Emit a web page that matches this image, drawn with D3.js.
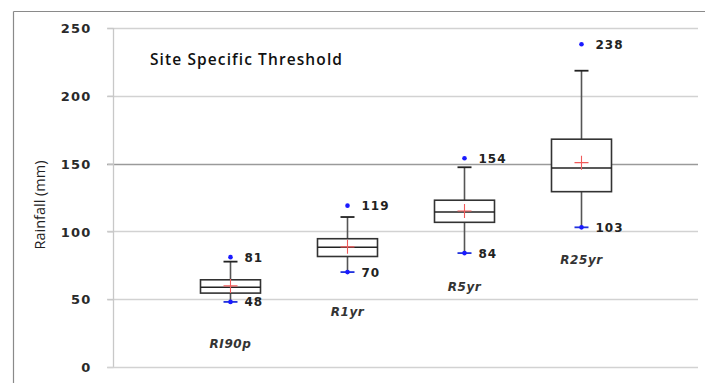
<!DOCTYPE html>
<html>
<head>
<meta charset="utf-8">
<script src="https://cdn.jsdelivr.net/npm/d3@7"></script>
<style>
  html, body { margin: 0; padding: 0; background: #fff; }
  svg { display: block; }
  text { font-family: "Open Sans", "DejaVu Sans", sans-serif; }
  .num { font-family: "DejaVu Sans", sans-serif; }
</style>
</head>
<body>
<svg id="chart" width="705" height="383"></svg>
<script>
// Rainfall thresholds (mm) per index
const categories = ["RI90p", "R1yr", "R5yr", "R25yr"];
const whiskerLow  = [48, 70, 84, 103];
const q1          = [54.5, 81.5, 106.7, 129.3];
const median      = [58.8, 88.3, 114.3, 146.8];
const q3          = [64.3, 94.6, 123, 168];
const whiskerHigh = [77.7, 110.6, 147.3, 218.5];
const meanValue   = [59.8, 88.6, 115, 150.7];
const maxValue    = [81, 119, 154, 238];
const minValue    = [48, 70, 84, 103];
// category name anchors, plotted as a hidden series (mm)
const nameAnchor  = [17, 41, 59, 79];
const yTicks = [0, 50, 100, 150, 200, 250];

const svg = d3.select("#chart");

// frame lines
svg.append("line").attr("x1", 13.5).attr("x2", 705).attr("y1", 11.5).attr("y2", 11.5)
  .attr("stroke", "#8a8a8a").attr("stroke-width", 1.2);
svg.append("line").attr("x1", 13.5).attr("x2", 13.5).attr("y1", 11.5).attr("y2", 383)
  .attr("stroke", "#8a8a8a").attr("stroke-width", 1.2);

const x = d3.scaleLinear().domain([0, 5]).range([113, 698]);
const y = d3.scaleLinear().domain([0, 250]).range([367, 28]);

// gridlines
svg.append("g").selectAll("line").data(yTicks.filter(d => d > 0)).join("line")
  .attr("x1", 107).attr("x2", 698)
  .attr("y1", d => Math.round(y(d)) + 0.5).attr("y2", d => Math.round(y(d)) + 0.5)
  .attr("stroke", d => d === 150 ? "#9a9a9a" : "#d2d2d2").attr("stroke-width", 1.3);

// y axis
const yAxis = svg.append("g").attr("transform", "translate(113.5,0)")
  .call(d3.axisLeft(y).tickValues(yTicks).tickSize(6).tickPadding(16));
yAxis.select(".domain").attr("stroke", "#c8c8c8").attr("stroke-width", 1.3)
  .attr("d", `M0,${y(250)}V${y(0) + 0.5}`);
yAxis.selectAll(".tick line").attr("stroke", "#c8c8c8").attr("stroke-width", 1.3);
yAxis.selectAll(".tick text").attr("class", "num").attr("font-size", 13).attr("font-weight", 700)
  .attr("letter-spacing", 1.2).attr("fill", "#2a2a2a").attr("dy", "0.36em");
// bottom baseline at 0
svg.append("line").attr("x1", 107).attr("x2", 698)
  .attr("y1", Math.round(y(0)) + 0.5).attr("y2", Math.round(y(0)) + 0.5)
  .attr("stroke", "#d2d2d2").attr("stroke-width", 1.3);

// axis title
svg.append("text").attr("transform", "translate(45,205) rotate(-90)")
  .attr("text-anchor", "middle").attr("font-size", 14.5).attr("fill", "#222")
  .text("Rainfall (mm)");

// chart title
svg.append("text").attr("x", 150).attr("y", 65).attr("font-size", 15.5)
  .attr("font-weight", 600).attr("letter-spacing", 1.1).attr("fill", "#111")
  .text("Site Specific Threshold");

const boxW = 60, capW = 14;
const g = svg.append("g");
categories.forEach((c, i) => {
  const cx = Math.round(x(i + 1)) + 0.5;
  // whisker stem
  g.append("line").attr("x1", cx).attr("x2", cx)
    .attr("y1", y(whiskerLow[i])).attr("y2", y(whiskerHigh[i]))
    .attr("stroke", "#555").attr("stroke-width", 1.6);
  // upper cap
  g.append("line").attr("x1", cx - capW / 2).attr("x2", cx + capW / 2)
    .attr("y1", y(whiskerHigh[i])).attr("y2", y(whiskerHigh[i]))
    .attr("stroke", "#222").attr("stroke-width", 1.8);
  // lower cap
  g.append("line").attr("x1", cx - capW / 2).attr("x2", cx + capW / 2)
    .attr("y1", y(whiskerLow[i])).attr("y2", y(whiskerLow[i]))
    .attr("stroke", "#2233dd").attr("stroke-width", 1.8);
  // box
  g.append("rect").attr("x", cx - boxW / 2).attr("width", boxW)
    .attr("y", y(q3[i])).attr("height", y(q1[i]) - y(q3[i]))
    .attr("fill", "#fff").attr("stroke", "#333").attr("stroke-width", 1.6);
  // median
  g.append("line").attr("x1", cx - boxW / 2).attr("x2", cx + boxW / 2)
    .attr("y1", y(median[i])).attr("y2", y(median[i]))
    .attr("stroke", "#222").attr("stroke-width", 1.6);
  // mean marker
  const my = y(meanValue[i]);
  g.append("path").attr("d", `M${cx - 7},${my}H${cx + 7}M${cx},${my - 7}V${my + 7}`)
    .attr("stroke", "#f05a5a").attr("stroke-width", 1.1).attr("fill", "none");
  // extremes
  [maxValue[i], minValue[i]].forEach(v => {
    g.append("circle").attr("cx", cx).attr("cy", y(v)).attr("r", 2.3).attr("fill", "#1a1aff");
    g.append("text").attr("class", "num").attr("x", cx + 14).attr("y", y(v)).attr("dy", "0.38em")
      .attr("font-size", 12).attr("font-weight", 700).attr("fill", "#222")
      .attr("letter-spacing", 1).text(v);
  });
  // category name
  g.append("text").attr("class", "num").attr("x", cx).attr("y", y(nameAnchor[i])).attr("dy", "0.35em")
    .attr("text-anchor", "middle").attr("font-size", 12).attr("font-weight", 700)
    .attr("font-style", "italic").attr("letter-spacing", 0.6).attr("fill", "#333").text(c);
});
</script>
</body>
</html>
